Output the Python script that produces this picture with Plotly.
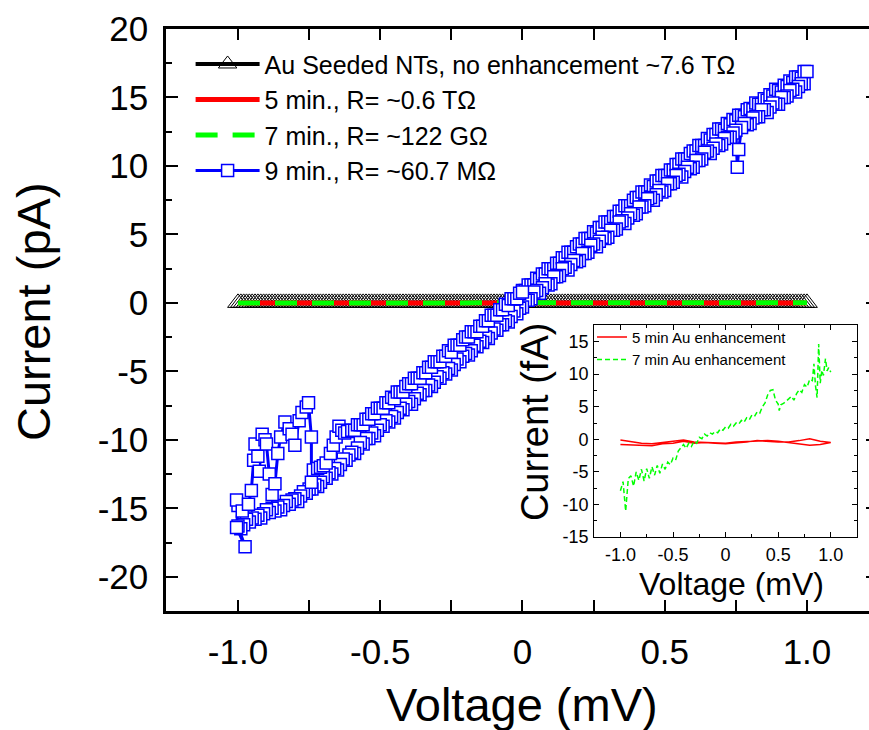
import plotly.graph_objects as go

FONT = "Liberation Sans, Arial, sans-serif"

# ---- Au seeded NTs, no enhancement (voltage in mV, current in fA) ----
NOENH_V = [
    -1.00, -0.99, -0.98, -0.97, -0.96, -0.95, -0.94, -0.93, -0.92, -0.91,
    -0.90, -0.89, -0.88, -0.87, -0.86, -0.85, -0.84, -0.83, -0.82, -0.81,
    -0.80, -0.79, -0.78, -0.77, -0.76, -0.75, -0.74, -0.73, -0.72, -0.71,
    -0.70, -0.69, -0.68, -0.67, -0.66, -0.65, -0.64, -0.63, -0.62, -0.61,
    -0.60, -0.59, -0.58, -0.57, -0.56, -0.55, -0.54, -0.53, -0.52, -0.51,
    -0.50, -0.49, -0.48, -0.47, -0.46, -0.45, -0.44, -0.43, -0.42, -0.41,
    -0.40, -0.39, -0.38, -0.37, -0.36, -0.35, -0.34, -0.33, -0.32, -0.31,
    -0.30, -0.29, -0.28, -0.27, -0.26, -0.25, -0.24, -0.23, -0.22, -0.21,
    -0.20, -0.19, -0.18, -0.17, -0.16, -0.15, -0.14, -0.13, -0.12, -0.11,
    -0.10, -0.09, -0.08, -0.07, -0.06, -0.05, -0.04, -0.03, -0.02, -0.01,
    0.00, 0.01, 0.02, 0.03, 0.04, 0.05, 0.06, 0.07, 0.08, 0.09,
    0.10, 0.11, 0.12, 0.13, 0.14, 0.15, 0.16, 0.17, 0.18, 0.19,
    0.20, 0.21, 0.22, 0.23, 0.24, 0.25, 0.26, 0.27, 0.28, 0.29,
    0.30, 0.31, 0.32, 0.33, 0.34, 0.35, 0.36, 0.37, 0.38, 0.39,
    0.40, 0.41, 0.42, 0.43, 0.44, 0.45, 0.46, 0.47, 0.48, 0.49,
    0.50, 0.51, 0.52, 0.53, 0.54, 0.55, 0.56, 0.57, 0.58, 0.59,
    0.60, 0.61, 0.62, 0.63, 0.64, 0.65, 0.66, 0.67, 0.68, 0.69,
    0.70, 0.71, 0.72, 0.73, 0.74, 0.75, 0.76, 0.77, 0.78, 0.79,
    0.80, 0.81, 0.82, 0.83, 0.84, 0.85, 0.86, 0.87, 0.88, 0.89,
    0.90, 0.91, 0.92, 0.93, 0.94, 0.95, 0.96, 0.97, 0.98, 0.99, 1.00,
]
NOENH_I_FA = [
    -0.14, -0.12, -0.13, -0.13, -0.11, -0.12, -0.13, -0.12, -0.11, -0.12,
    -0.12, -0.11, -0.12, -0.10, -0.11, -0.11, -0.12, -0.10, -0.11, -0.10,
    -0.10, -0.11, -0.10, -0.09, -0.11, -0.10, -0.09, -0.10, -0.09, -0.09,
    -0.09, -0.10, -0.08, -0.09, -0.08, -0.09, -0.08, -0.08, -0.07, -0.08,
    -0.08, -0.07, -0.08, -0.07, -0.07, -0.06, -0.07, -0.07, -0.06, -0.07,
    -0.07, -0.06, -0.06, -0.05, -0.06, -0.06, -0.05, -0.05, -0.06, -0.05,
    -0.05, -0.05, -0.04, -0.05, -0.04, -0.04, -0.05, -0.04, -0.03, -0.04,
    -0.04, -0.03, -0.04, -0.03, -0.03, -0.02, -0.03, -0.03, -0.02, -0.03,
    -0.03, -0.02, -0.02, -0.01, -0.02, -0.02, -0.01, -0.01, -0.02, -0.01,
    -0.01, -0.01, 0.00, -0.01, 0.00, 0.00, -0.01, 0.00, 0.00, 0.00,
    0.00, 0.00, 0.01, 0.00, 0.00, 0.01, 0.01, 0.00, 0.01, 0.01,
    0.01, 0.02, 0.01, 0.02, 0.02, 0.01, 0.02, 0.02, 0.03, 0.02,
    0.03, 0.02, 0.03, 0.03, 0.04, 0.03, 0.03, 0.04, 0.04, 0.03,
    0.04, 0.04, 0.05, 0.04, 0.04, 0.05, 0.05, 0.04, 0.05, 0.05,
    0.05, 0.06, 0.05, 0.06, 0.06, 0.05, 0.06, 0.06, 0.07, 0.06,
    0.07, 0.06, 0.07, 0.07, 0.08, 0.07, 0.07, 0.08, 0.08, 0.07,
    0.08, 0.08, 0.09, 0.08, 0.08, 0.09, 0.09, 0.08, 0.09, 0.09,
    0.09, 0.10, 0.09, 0.10, 0.10, 0.09, 0.10, 0.10, 0.11, 0.10,
    0.11, 0.10, 0.11, 0.11, 0.12, 0.11, 0.11, 0.12, 0.12, 0.11,
    0.12, 0.12, 0.13, 0.12, 0.12, 0.13, 0.13, 0.12, 0.13, 0.13, 0.13,
]

# ---- 5 min Au enhancement (mV, fA), forward then reverse sweep ----
RED_V = [
    -1.0, -0.9, -0.8, -0.7, -0.6, -0.5, -0.4, -0.3, -0.2, -0.1, 0.0,
    0.1, 0.2, 0.3, 0.4, 0.5, 0.6, 0.7, 0.8, 0.9, 1.0,
    0.9, 0.8, 0.7, 0.6, 0.5, 0.4, 0.3, 0.2, 0.1, 0.0,
    -0.1, -0.2, -0.3, -0.4, -0.5, -0.6, -0.7, -0.8, -0.9, -1.0,
]
RED_I_FA = [
    -0.1, -0.4, -0.6, -0.7, -0.5, -0.4, -0.1, -0.4, -0.5, -0.5, -0.6,
    -0.4, -0.3, -0.2, -0.2, -0.3, -0.5, -0.6, -0.9, -0.8, -0.5,
    -0.3, 0.1, -0.2, -0.4, -0.4, -0.3, -0.2, -0.4, -0.5, -0.7,
    -0.6, -0.5, -0.6, -0.3, -0.6, -0.7, -1.0, -0.9, -0.8, -0.8,
]

# ---- 7 min Au enhancement (mV, fA) ----
GREEN_V = [
    -1.000, -0.975, -0.950, -0.925, -0.900, -0.875, -0.850, -0.825, -0.800, -0.775,
    -0.750, -0.725, -0.700, -0.675, -0.650, -0.625, -0.600, -0.575, -0.550, -0.525,
    -0.500, -0.475, -0.450, -0.425, -0.400, -0.375, -0.350, -0.325, -0.300, -0.275,
    -0.250, -0.225, -0.200, -0.175, -0.150, -0.125, -0.100, -0.075, -0.050, -0.025,
    0.000, 0.025, 0.050, 0.075, 0.100, 0.125, 0.150, 0.175, 0.200, 0.225,
    0.250, 0.275, 0.300, 0.325, 0.350, 0.375, 0.400, 0.425, 0.450, 0.475,
    0.500, 0.510, 0.525, 0.550, 0.575, 0.600, 0.625, 0.650, 0.675, 0.700,
    0.725, 0.750, 0.775, 0.800, 0.825, 0.840, 0.855, 0.870, 0.885, 0.900,
    0.915, 0.930, 0.950, 0.965, 0.980, 1.000,
]
GREEN_I_FA = [
    -7.9, -6.5, -11.0, -6.0, -5.6, -7.2, -5.0, -6.3, -4.6, -6.4,
    -4.5, -6.0, -4.2, -5.5, -4.0, -5.2, -3.8, -4.6, -3.5, -3.9,
    -2.9, -3.2, -1.8, -1.2, -0.8, -1.4, -0.6, -1.1, -0.3, -0.6,
    0.3, 0.1, 0.8, 0.5, 1.0, 0.8, 1.2, 1.0, 1.6, 1.4,
    1.9, 1.7, 2.3, 2.0, 2.5, 2.3, 2.9, 2.6, 3.3, 3.0,
    3.7, 3.5, 4.2, 4.0, 5.0, 5.6, 6.8, 7.5, 7.6, 6.0,
    5.4, 4.4, 5.3, 5.5, 5.8, 6.2, 6.6, 6.0, 7.0, 7.6,
    7.2, 8.4, 8.0, 9.2, 9.0, 11.6, 8.2, 6.4, 14.6, 8.6,
    10.6, 9.8, 12.4, 10.5, 11.0, 10.3,
]

# ---- 9 min Au enhancement (mV, pA): 0 -> 1 -> 0 -> -1 -> 0 ----
BLUE_V = [
    # 0 -> 1
    0.00, 0.01, 0.02, 0.03, 0.04, 0.05, 0.06, 0.07, 0.08, 0.09,
    0.10, 0.11, 0.12, 0.13, 0.14, 0.15, 0.16, 0.17, 0.18, 0.19,
    0.20, 0.21, 0.22, 0.23, 0.24, 0.25, 0.26, 0.27, 0.28, 0.29,
    0.30, 0.31, 0.32, 0.33, 0.34, 0.35, 0.36, 0.37, 0.38, 0.39,
    0.40, 0.41, 0.42, 0.43, 0.44, 0.45, 0.46, 0.47, 0.48, 0.49,
    0.50, 0.51, 0.52, 0.53, 0.54, 0.55, 0.56, 0.57, 0.58, 0.59,
    0.60, 0.61, 0.62, 0.63, 0.64, 0.65, 0.66, 0.67, 0.68, 0.69,
    0.70, 0.71, 0.72, 0.73, 0.74, 0.75, 0.76, 0.77, 0.78, 0.79,
    0.80, 0.81, 0.82, 0.83, 0.84, 0.85, 0.86, 0.87, 0.88, 0.89,
    0.90, 0.91, 0.92, 0.93, 0.94, 0.95, 0.96, 0.97, 0.98, 0.99, 1.00,
    # 1 -> 0
    0.99, 0.98, 0.97, 0.96, 0.95, 0.94, 0.93, 0.92, 0.91, 0.90,
    0.89, 0.88, 0.87, 0.86, 0.85, 0.84, 0.83, 0.82, 0.81, 0.80,
    0.79, 0.78, 0.77, 0.76, 0.755, 0.75, 0.74, 0.73, 0.72, 0.71, 0.70,
    0.69, 0.68, 0.67, 0.66, 0.65, 0.64, 0.63, 0.62, 0.61, 0.60,
    0.59, 0.58, 0.57, 0.56, 0.55, 0.54, 0.53, 0.52, 0.51, 0.50,
    0.49, 0.48, 0.47, 0.46, 0.45, 0.44, 0.43, 0.42, 0.41, 0.40,
    0.39, 0.38, 0.37, 0.36, 0.35, 0.34, 0.33, 0.32, 0.31, 0.30,
    0.29, 0.28, 0.27, 0.26, 0.25, 0.24, 0.23, 0.22, 0.21, 0.20,
    0.19, 0.18, 0.17, 0.16, 0.15, 0.14, 0.13, 0.12, 0.11, 0.10,
    0.09, 0.08, 0.07, 0.06, 0.05, 0.04, 0.03, 0.02, 0.01, 0.00,
    # 0 -> -1
    -0.01, -0.02, -0.03, -0.04, -0.05, -0.06, -0.07, -0.08, -0.09, -0.10,
    -0.11, -0.12, -0.13, -0.14, -0.15, -0.16, -0.17, -0.18, -0.19, -0.20,
    -0.21, -0.22, -0.23, -0.24, -0.25, -0.26, -0.27, -0.28, -0.29, -0.30,
    -0.31, -0.32, -0.33, -0.34, -0.35, -0.36, -0.37, -0.38, -0.39, -0.40,
    -0.41, -0.42, -0.43, -0.44, -0.45, -0.46, -0.47, -0.48, -0.49, -0.50,
    -0.51, -0.52, -0.53, -0.54, -0.55, -0.56, -0.57, -0.58, -0.59, -0.60,
    -0.61, -0.62, -0.63, -0.64, -0.65, -0.66, -0.67, -0.68, -0.69, -0.70,
    -0.71, -0.72, -0.73, -0.74, -0.75, -0.76, -0.77, -0.78, -0.79, -0.80,
    -0.81, -0.82, -0.83, -0.84, -0.85, -0.86, -0.87, -0.88, -0.89, -0.90,
    -0.91, -0.92, -0.93, -0.94, -0.95, -0.96, -0.97, -0.98, -0.99, -1.00,
    # unstable turn-around near -1 mV
    -0.975, -1.005, -1.000, -1.005, -0.985, -0.963, -0.953, -0.945, -0.940, -0.930,
    -0.925, -0.915, -0.905, -0.900, -0.890, -0.880, -0.870, -0.860, -0.850, -0.835,
    -0.820, -0.810, -0.800, -0.785, -0.775, -0.760, -0.752, -0.742, -0.742, -0.735,
    -0.720, -0.710, -0.700, -0.690, -0.675, -0.665, -0.655, -0.645, -0.635, -0.625,
    -0.615,
    # -0.6 -> 0
    -0.60, -0.59, -0.58, -0.57, -0.56, -0.55, -0.54, -0.53, -0.52, -0.51,
    -0.50, -0.49, -0.48, -0.47, -0.46, -0.45, -0.44, -0.43, -0.42, -0.41,
    -0.40, -0.39, -0.38, -0.37, -0.36, -0.35, -0.34, -0.33, -0.32, -0.31,
    -0.30, -0.29, -0.28, -0.27, -0.26, -0.25, -0.24, -0.23, -0.22, -0.21,
    -0.20, -0.19, -0.18, -0.17, -0.16, -0.15, -0.14, -0.13, -0.12, -0.11,
    -0.10, -0.09, -0.08, -0.07, -0.06, -0.05, -0.04, -0.03, -0.02, -0.01, 0.00,
]
BLUE_I_PA = [
    # 0 -> 1
    0.9, 0.9, 1.3, 1.3, 1.3, 1.8, 1.7, 2.1, 2.1, 2.5,
    2.5, 2.5, 2.9, 2.9, 3.3, 3.3, 3.7, 3.7, 3.7, 4.1,
    4.3, 4.3, 4.7, 4.7, 4.7, 5.2, 5.1, 5.5, 5.5, 5.9,
    5.9, 5.9, 6.3, 6.3, 6.7, 6.7, 7.1, 7.1, 7.1, 7.5,
    7.7, 7.7, 8.1, 8.1, 8.1, 8.6, 8.5, 8.9, 8.9, 9.3,
    9.3, 9.3, 9.7, 9.7, 10.1, 10.1, 10.5, 10.5, 10.5, 10.9,
    11.1, 11.1, 11.5, 11.5, 11.5, 12.0, 11.9, 12.3, 12.3, 12.7,
    12.7, 12.6, 13.1, 13.0, 13.4, 13.3, 13.7, 13.7, 13.6, 14.1,
    14.2, 14.1, 14.6, 14.5, 14.5, 14.9, 14.8, 15.2, 15.1, 15.6,
    15.5, 15.4, 15.9, 15.8, 16.2, 16.1, 16.5, 16.5, 16.4, 16.9, 16.9,
    # 1 -> 0
    16.0, 16.0, 15.8, 15.4, 15.6, 15.5, 15.1, 15.0, 15.0, 14.5,
    14.5, 14.6, 14.3, 13.9, 14.1, 14.1, 13.6, 13.6, 13.5, 13.1,
    13.0, 13.1, 12.8, 11.2, 9.9, 12.6, 12.4, 12.1, 12.1, 12.0, 11.6,
    11.5, 11.6, 11.3, 10.9, 11.1, 11.0, 10.5, 10.4, 10.4, 9.9,
    9.8, 9.9, 9.6, 9.2, 9.4, 9.3, 8.8, 8.7, 8.7, 8.2,
    8.1, 8.2, 7.9, 7.5, 7.7, 7.6, 7.1, 7.0, 7.0, 6.5,
    6.4, 6.5, 6.2, 5.8, 6.0, 5.9, 5.4, 5.3, 5.3, 4.8,
    4.7, 4.8, 4.5, 4.1, 4.3, 4.2, 3.7, 3.6, 3.6, 3.1,
    3.0, 3.1, 2.8, 2.4, 2.6, 2.5, 2.0, 1.9, 1.9, 1.4,
    1.3, 1.4, 1.1, 0.7, 0.9, 0.8, 0.3, 0.2, 0.2, -0.3,
    # 0 -> -1
    -0.4, -0.8, -0.6, -1.0, -1.4, -1.3, -1.6, -1.6, -2.0, -1.9,
    -2.2, -2.6, -2.5, -2.9, -2.8, -3.2, -3.1, -3.5, -3.8, -3.7,
    -3.9, -4.3, -4.1, -4.5, -4.9, -4.8, -5.2, -5.1, -5.5, -5.4,
    -5.8, -6.1, -6.0, -6.4, -6.4, -6.7, -6.6, -7.0, -7.4, -7.2,
    -7.4, -7.8, -7.7, -8.0, -8.4, -8.3, -8.7, -8.6, -9.0, -8.9,
    -9.3, -9.7, -9.5, -9.9, -9.9, -10.3, -10.2, -10.6, -11.0, -10.9,
    -11.1, -11.5, -11.4, -11.8, -12.2, -12.1, -12.5, -12.4, -12.8, -12.7,
    -13.1, -13.4, -13.3, -13.6, -13.6, -13.9, -13.8, -14.1, -14.5, -14.3,
    -14.4, -14.7, -14.5, -14.8, -15.1, -14.9, -15.2, -15.0, -15.3, -15.1,
    -15.4, -15.7, -15.5, -15.8, -15.7, -16.0, -15.8, -16.2, -16.5, -16.3,
    # unstable turn-around near -1 mV
    -17.8, -16.4, -14.8, -14.4, -15.2, -14.7, -13.7, -11.5, -10.3, -11.2,
    -12.3, -9.6, -10.0, -10.3, -12.5, -14.0, -13.2, -11.0, -9.8, -8.7,
    -9.2, -9.6, -10.4, -8.6, -8.0, -7.6, -7.3, -9.8, -13.1, -12.2,
    -12.1, -12.0, -11.9, -11.7, -11.0, -10.4, -9.8, -9.0, -9.3, -9.5,
    -9.4,
    # -0.6 -> 0
    -9.3, -9.3, -8.9, -8.9, -8.9, -8.5, -8.5, -8.1, -8.1, -7.7,
    -7.7, -7.7, -7.3, -7.3, -6.9, -7.0, -6.5, -6.5, -6.5, -6.1,
    -5.9, -5.9, -5.5, -5.5, -5.5, -5.1, -5.1, -4.7, -4.7, -4.3,
    -4.3, -4.3, -3.9, -3.9, -3.5, -3.6, -3.1, -3.1, -3.1, -2.7,
    -2.5, -2.5, -2.1, -2.1, -2.1, -1.7, -1.7, -1.3, -1.3, -0.9,
    -0.9, -0.9, -0.5, -0.5, -0.1, -0.2, 0.3, 0.3, 0.3, 0.7, 0.8,
]

# ---- axis ticks ----
V_TICKS = [-1.0, -0.5, 0.0, 0.5, 1.0]
V_TICK_TEXT = ["-1.0", "-0.5", "0", "0.5", "1.0"]
PA_TICKS = [20, 15, 10, 5, 0, -5, -10, -15, -20]
PA_TICK_TEXT = ["20", "15", "10", "5", "0", "-5", "-10", "-15", "-20"]
FA_TICKS = [15, 10, 5, 0, -5, -10, -15]
FA_TICK_TEXT = ["15", "10", "5", "0", "-5", "-10", "-15"]


def fa_to_pa(values):
    return [v / 1000.0 for v in values]


fig = go.Figure()

# main panel
fig.add_trace(go.Scatter(
    x=NOENH_V, y=fa_to_pa(NOENH_I_FA), mode="lines+markers",
    name="Au Seeded NTs, no enhancement ~7.6 TΩ",
    line=dict(color="black", width=4),
    marker=dict(symbol="triangle-up-open", size=18, color="black",
                line=dict(color="black", width=1)),
))
fig.add_trace(go.Scatter(
    x=RED_V, y=fa_to_pa(RED_I_FA), mode="lines",
    name="5 min., R= ~0.6 TΩ",
    line=dict(color="#ff0000", width=5),
))
fig.add_trace(go.Scatter(
    x=GREEN_V, y=fa_to_pa(GREEN_I_FA), mode="lines",
    name="7 min., R= ~122 GΩ",
    line=dict(color="#00ff00", width=5, dash="22px,15px"),
))
fig.add_trace(go.Scatter(
    x=BLUE_V, y=BLUE_I_PA, mode="lines+markers",
    name="9 min., R= ~60.7 MΩ",
    line=dict(color="#0000ff", width=3),
    marker=dict(symbol="square", size=12, color="white",
                line=dict(color="#0000ff", width=1.5)),
))
# right-hand mirror axis carries only tick marks
fig.add_trace(go.Scatter(x=[], y=[], yaxis="y3", showlegend=False,
                         hoverinfo="skip"))

# inset panel (fA)
fig.add_trace(go.Scatter(
    x=RED_V, y=RED_I_FA, mode="lines", xaxis="x2", yaxis="y2",
    name="5 min Au enhancement", legend="legend2",
    line=dict(color="#ff0000", width=1.5),
))
fig.add_trace(go.Scatter(
    x=GREEN_V, y=GREEN_I_FA, mode="lines", xaxis="x2", yaxis="y2",
    name="7 min Au enhancement", legend="legend2",
    line=dict(color="#00ff00", width=1.5, dash="5px,3px"),
))

main_axis = dict(
    showline=True, linecolor="black", linewidth=2.5,
    ticks="inside", tickcolor="black", tickwidth=2,
    showgrid=False, zeroline=False,
    tickfont=dict(family=FONT, size=35, color="black"),
)
inset_axis = dict(
    showline=True, linecolor="black", linewidth=1, mirror="allticks",
    ticks="inside", tickcolor="black", tickwidth=1, ticklen=5,
    showgrid=False, zeroline=False,
    tickfont=dict(family=FONT, size=18, color="black"),
)

fig.update_layout(
    width=869, height=730,
    margin=dict(l=166, r=0, t=29, b=119),
    paper_bgcolor="white", plot_bgcolor="white",
    font=dict(family=FONT, color="black"),
    xaxis=dict(
        main_axis, domain=[0, 1], range=[-1.253, 1.218],
        tickmode="array", tickvals=V_TICKS, ticktext=V_TICK_TEXT,
        ticklen=11, mirror="allticks", ticklabelstandoff=8,
        minor=dict(dtick=0.25, tick0=0, ticks="inside", ticklen=6,
                   tickwidth=2, tickcolor="black"),
    ),
    yaxis=dict(
        main_axis, domain=[0, 1], range=[-22.5, 20],
        tickmode="array", tickvals=PA_TICKS, ticktext=PA_TICK_TEXT,
        ticklen=12, ticklabelstandoff=8,
        minor=dict(dtick=2.5, tick0=0, ticks="inside", ticklen=6,
                   tickwidth=2, tickcolor="black"),
    ),
    yaxis3=dict(
        overlaying="y", side="right", anchor="x", range=[-22.5, 20],
        tickmode="array", tickvals=PA_TICKS, showticklabels=False,
        ticks="inside", ticklen=3, tickwidth=2, tickcolor="black",
        showline=False, showgrid=False, zeroline=False,
    ),
    xaxis2=dict(
        inset_axis, domain=[0.609, 0.983], anchor="y2", range=[-1.25, 1.25],
        tickmode="array", tickvals=V_TICKS, ticktext=V_TICK_TEXT,
        ticklabelstandoff=1,
        minor=dict(dtick=0.25, tick0=0, ticks="inside", ticklen=3,
                   tickwidth=1, tickcolor="black"),
    ),
    yaxis2=dict(
        inset_axis, domain=[0.127, 0.491], anchor="x2", range=[-15, 17.5],
        tickmode="array", tickvals=FA_TICKS, ticktext=FA_TICK_TEXT,
        ticklabelstandoff=1,
        minor=dict(dtick=2.5, tick0=0, ticks="inside", ticklen=3,
                   tickwidth=1, tickcolor="black"),
    ),
    legend=dict(
        x=0.035, y=0.979, xanchor="left", yanchor="top",
        bgcolor="rgba(0,0,0,0)", borderwidth=0,
        font=dict(family=FONT, size=25, color="black"),
        itemwidth=64, tracegroupgap=0,
    ),
    legend2=dict(
        x=0.606, y=0.4985, xanchor="left", yanchor="top",
        bgcolor="rgba(0,0,0,0)", borderwidth=0,
        font=dict(family=FONT, size=15, color="black"),
        tracegroupgap=0,
    ),
    annotations=[
        dict(text="Current (pA)", textangle=-90, xref="paper", yref="paper",
             x=-0.1875, y=0.514, xanchor="center", yanchor="middle",
             showarrow=False, font=dict(family=FONT, size=47, color="black")),
        dict(text="Voltage (mV)", xref="paper", yref="paper",
             x=0.506, y=-0.1615, xanchor="center", yanchor="middle",
             showarrow=False, font=dict(family=FONT, size=47, color="black")),
        dict(text="Current (fA)", textangle=-90, xref="paper", yref="paper",
             x=0.525, y=0.3247, xanchor="center", yanchor="middle",
             showarrow=False, font=dict(family=FONT, size=38, color="black")),
        dict(text="Voltage (mV)", xref="paper", yref="paper",
             x=0.8037, y=0.046, xanchor="center", yanchor="middle",
             showarrow=False, font=dict(family=FONT, size=32, color="black")),
    ],
    showlegend=True,
)

fig.write_html("out.html")
